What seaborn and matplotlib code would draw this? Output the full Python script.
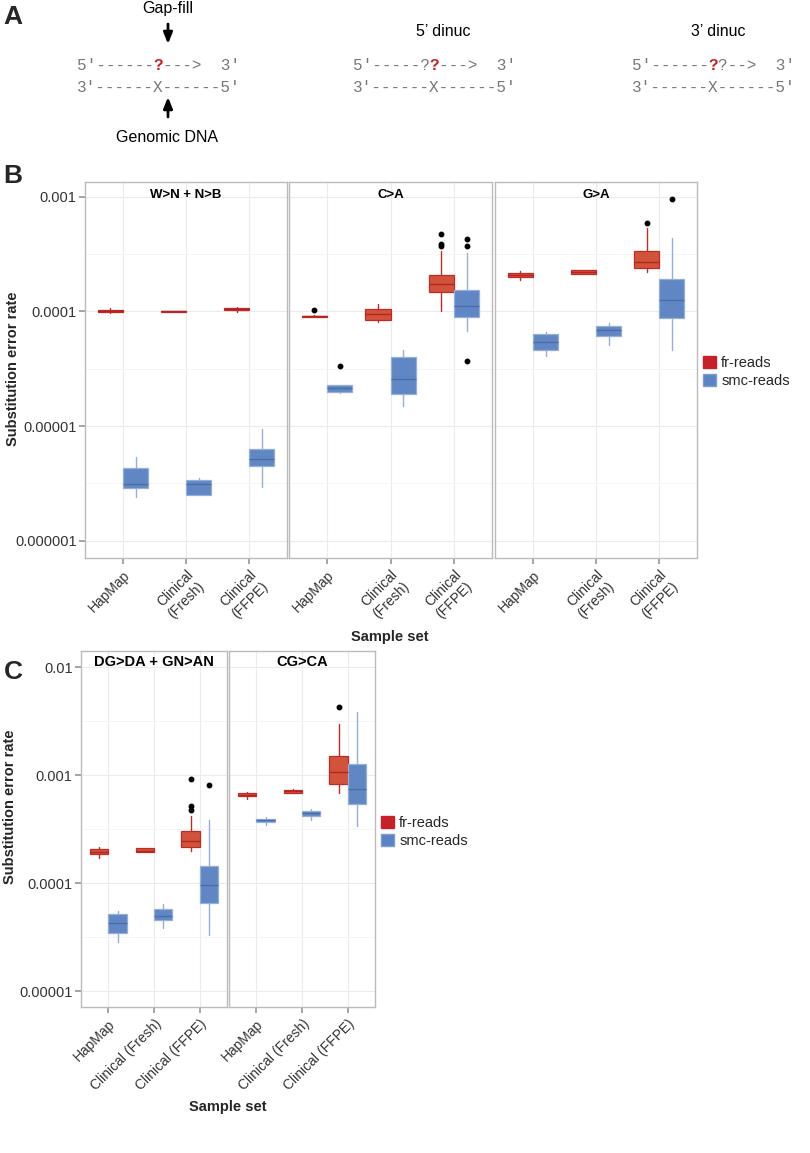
import matplotlib
matplotlib.use("Agg")
import matplotlib.pyplot as plt
from matplotlib.patches import Patch
from matplotlib.ticker import FixedLocator, NullFormatter
import numpy as np
import seaborn as sns

# x categories
groups_b = ["HapMap", "Clinical\n(Fresh)", "Clinical\n(FFPE)"]
groups_c = ["HapMap", "Clinical (Fresh)", "Clinical (FFPE)"]
read_types = ["fr-reads", "smc-reads"]

titles_b = ["W>N + N>B", "C>A", "G>A"]
titles_c = ["DG>DA + GN>AN", "CG>CA"]

yticks_b = [1e-6, 1e-5, 1e-4, 1e-3]
ylabels_b = ["0.000001", "0.00001", "0.0001", "0.001"]
yticks_c = [1e-5, 1e-4, 1e-3, 1e-2]
ylabels_c = ["0.00001", "0.0001", "0.001", "0.01"]

# box summaries, one per sample set:
# (whisker low, q1, median, q3, whisker high, outliers)
wn_fr = [(0.97e-4, 0.99e-4, 1.01e-4, 1.03e-4, 1.06e-4, []),
         (0.99e-4, 0.995e-4, 1.0e-4, 1.005e-4, 1.01e-4, []),
         (0.99e-4, 1.02e-4, 1.04e-4, 1.06e-4, 1.1e-4, [])]
wn_smc = [(2.43e-6, 2.86e-6, 3.15e-6, 4.27e-6, 5.42e-6, []),
          (2.51e-6, 2.51e-6, 3.11e-6, 3.39e-6, 3.56e-6, []),
          (2.95e-6, 4.49e-6, 5.2e-6, 6.27e-6, 9.48e-6, [])]

ca_fr = [(8.85e-5, 8.9e-5, 9.06e-5, 9.2e-5, 9.3e-5, [1.02e-4]),
         (8.1e-5, 8.36e-5, 9.42e-5, 1.05e-4, 1.16e-4, []),
         (1.0e-4, 1.49e-4, 1.74e-4, 2.08e-4, 3.33e-4, [3.72e-4, 3.88e-4, 4.71e-4])]
ca_smc = [(1.96e-5, 2.0e-5, 2.13e-5, 2.26e-5, 2.3e-5, [3.33e-5]),
          (1.49e-5, 1.89e-5, 2.58e-5, 3.98e-5, 4.58e-5, []),
          (6.8e-5, 8.87e-5, 1.12e-4, 1.55e-4, 3.22e-4, [3.72e-5, 3.72e-4, 4.28e-4])]

ga_fr = [(1.86e-4, 1.98e-4, 2.08e-4, 2.18e-4, 2.25e-4, []),
         (2.1e-4, 2.12e-4, 2.2e-4, 2.28e-4, 2.3e-4, []),
         (2.2e-4, 2.41e-4, 2.72e-4, 3.37e-4, 5.31e-4, [5.86e-4])]
ga_smc = [(4.06e-5, 4.61e-5, 5.46e-5, 6.35e-5, 6.65e-5, []),
          (5.06e-5, 6.15e-5, 6.84e-5, 7.52e-5, 8.0e-5, []),
          (4.58e-5, 8.81e-5, 1.26e-4, 1.9e-4, 4.4e-4, [9.49e-4])]

dg_fr = [(1.73e-4, 1.86e-4, 1.96e-4, 2.07e-4, 2.16e-4, []),
         (1.95e-4, 1.95e-4, 2.01e-4, 2.12e-4, 2.14e-4, []),
         (2.0e-4, 2.19e-4, 2.49e-4, 3.02e-4, 4.22e-4, [4.79e-4, 5.25e-4, 9.2e-4])]
dg_smc = [(2.86e-5, 3.46e-5, 4.28e-5, 5.19e-5, 5.5e-5, []),
          (3.85e-5, 4.6e-5, 4.94e-5, 5.77e-5, 6.43e-5, []),
          (3.34e-5, 6.56e-5, 9.55e-5, 1.45e-4, 3.82e-4, [8.22e-4])]

cg_fr = [(6.1e-4, 6.37e-4, 6.64e-4, 6.89e-4, 7.08e-4, []),
         (6.93e-4, 6.93e-4, 7.13e-4, 7.33e-4, 7.55e-4, []),
         (6.93e-4, 8.28e-4, 1.07e-3, 1.52e-3, 2.97e-3, [4.27e-3])]
cg_smc = [(3.45e-4, 3.68e-4, 3.83e-4, 3.98e-4, 4.07e-4, []),
          (3.85e-4, 4.22e-4, 4.45e-4, 4.66e-4, 4.86e-4, []),
          (3.36e-4, 5.41e-4, 7.5e-4, 1.26e-3, 3.89e-3, [])]

FR_FILL, FR_EDGE, FR_MED = "#D2533B", "#C32A26", "#B3261F"
SMC_FILL, SMC_EDGE, SMC_MED = "#6087C3", "#96AFD8", "#4C6EA8"
TXT = "#333333"

sns.set_theme(style="whitegrid")
plt.rcParams["font.family"] = ["Liberation Sans", "DejaVu Sans"]

W, H = 810, 1153
fig = plt.figure(figsize=(W / 100, H / 100), dpi=100)
fig.patch.set_facecolor("white")


def px_axes(x0, x1, y0, y1):
    return fig.add_axes([x0 / W, 1 - y1 / H, (x1 - x0) / W, (y1 - y0) / H])


def draw_boxes(ax, stats, shift, fill, edge, med):
    bstats = [dict(whislo=s[0], q1=s[1], med=s[2], q3=s[3], whishi=s[4], fliers=s[5]) for s in stats]
    ax.bxp(bstats, positions=np.arange(len(stats)) + shift, widths=0.4,
           patch_artist=True, showcaps=False, manage_ticks=False,
           boxprops=dict(facecolor=fill, edgecolor=edge, linewidth=0.9),
           medianprops=dict(color=med, linewidth=1.0),
           whiskerprops=dict(color=edge, linewidth=1.0),
           flierprops=dict(marker="o", markersize=3.2, markerfacecolor="black",
                           markeredgecolor="black", linestyle="none"))


def style_panel(ax, ylim, yticks, ylabels, groups, title, first, title_y, fs_title):
    ax.set_yscale("log")
    ax.set_ylim(*ylim)
    ax.set_xlim(-0.6, 2.6)
    ax.set_yticks(yticks)
    lo, hi = np.log10(yticks[0]), np.log10(yticks[-1])
    ax.yaxis.set_minor_locator(FixedLocator(10 ** np.arange(lo - 0.5, hi + 1, 1.0)))
    ax.yaxis.set_minor_formatter(NullFormatter())
    ax.set_xticks(range(len(groups)))
    ax.set_xticklabels(groups, rotation=45, ha="right", rotation_mode="anchor",
                       fontsize=10, color=TXT)
    if first:
        ax.set_yticklabels(ylabels, fontsize=10.5, color=TXT)
        ax.tick_params(axis="y", which="major", left=True, length=4, color="#999999", pad=2)
    else:
        ax.set_yticklabels([])
        ax.tick_params(axis="y", which="major", left=False, length=0)
    ax.tick_params(axis="y", which="minor", left=False, length=0)
    ax.tick_params(axis="x", bottom=True, length=4, color="#999999", pad=3)
    ax.grid(which="major", color="#EBEBEB", linewidth=0.8)
    ax.grid(which="minor", axis="y", color="#F4F4F4", linewidth=0.6)
    ax.set_axisbelow(True)
    for sp in ax.spines.values():
        sp.set_color("#BBBBBB")
        sp.set_linewidth(1.0)
    ax.set_facecolor("white")
    ax.text(0.5, title_y, title, transform=ax.transAxes, ha="center", va="center",
            fontsize=fs_title, fontweight="bold", color="black")


# ---- panel A: schematic ----
ax0 = fig.add_axes([0, 0, 1, 1])
ax0.set_xlim(0, W)
ax0.set_ylim(H, 0)
ax0.axis("off")

mono = ["Liberation Mono", "DejaVu Sans Mono"]
seq_fs = 11.5
char_w = 0.6 * seq_fs  # monospace advance, in points

# each top strand is split into gray / red / gray pieces, given as (start column, text, red?)
schemes = [
    (77, [(0, "5′------", False), (8, "?", True), (9, "--->  3′", False)]),
    (353, [(0, "5′-----?", False), (8, "?", True), (9, "--->  3′", False)]),
    (632, [(0, "5′------", False), (8, "?", True), (9, "?-->  3′", False)]),
]
for x0, pieces in schemes:
    for col, txt, red in pieces:
        ax0.annotate(txt, xy=(x0, 65), xytext=(col * char_w, 0), textcoords="offset points",
                     family=mono, fontsize=seq_fs, ha="left", va="center",
                     color="#CC1F1F" if red else "#777777",
                     fontweight="bold" if red else "normal")
    ax0.text(x0, 88, "3′------X------5′", family=mono, fontsize=seq_fs, color="#777777",
             ha="left", va="center")

ax0.text(168, 9, "Gap-fill", fontsize=11.5, ha="center", va="center", color="black")
ax0.text(167, 138, "Genomic DNA", fontsize=11.5, ha="center", va="center", color="black")
ax0.text(443, 32, "5’ dinuc", fontsize=11.5, ha="center", va="center", color="black")
ax0.text(718, 32, "3’ dinuc", fontsize=11.5, ha="center", va="center", color="black")
arrow = dict(arrowstyle="-|>,head_width=0.22,head_length=0.55", lw=2.0, color="black",
             shrinkA=0, shrinkB=0)
ax0.annotate("", xy=(168, 44), xytext=(168, 24), arrowprops=arrow)
ax0.annotate("", xy=(168, 97), xytext=(168, 117), arrowprops=arrow)

for letter, y in [("A", 17), ("B", 176), ("C", 672)]:
    ax0.text(13, y, letter, fontsize=19, fontweight="bold", ha="center", va="center")

# ---- panel B ----
ylim_b = (10 ** -6.150, 10 ** -2.872)
b_cols = [(85, 287), (289, 492), (495, 697)]
b_data = [(wn_fr, wn_smc), (ca_fr, ca_smc), (ga_fr, ga_smc)]
for i, ((x0, x1), (fr, smc), title) in enumerate(zip(b_cols, b_data, titles_b)):
    ax = px_axes(x0, x1, 182, 558)
    style_panel(ax, ylim_b, yticks_b, ylabels_b, groups_b, title, i == 0, 0.965, 9.5)
    draw_boxes(ax, fr, -0.2, FR_FILL, FR_EDGE, FR_MED)
    draw_boxes(ax, smc, 0.2, SMC_FILL, SMC_EDGE, SMC_MED)

# ---- panel C ----
ylim_c = (10 ** -5.145, 10 ** -1.849)
c_cols = [(81, 227), (229, 375)]
c_data = [(dg_fr, dg_smc), (cg_fr, cg_smc)]
for i, ((x0, x1), (fr, smc), title) in enumerate(zip(c_cols, c_data, titles_c)):
    ax = px_axes(x0, x1, 651, 1007)
    style_panel(ax, ylim_c, yticks_c, ylabels_c, groups_c, title, i == 0, 0.968, 10.5)
    draw_boxes(ax, fr, -0.2, FR_FILL, FR_EDGE, FR_MED)
    draw_boxes(ax, smc, 0.2, SMC_FILL, SMC_EDGE, SMC_MED)

# axis titles
ax0.text(13, 369, "Substitution error rate", rotation=90, fontsize=10.5, fontweight="bold",
         ha="center", va="center")
ax0.text(10, 807, "Substitution error rate", rotation=90, fontsize=10.5, fontweight="bold",
         ha="center", va="center")
ax0.text(390, 637, "Sample set", fontsize=10.5, fontweight="bold", ha="center", va="center")
ax0.text(228, 1107, "Sample set", fontsize=10.5, fontweight="bold", ha="center", va="center")

# legends
handles = [Patch(facecolor="#C8202A", edgecolor="#C8202A", label=read_types[0]),
           Patch(facecolor="#5B82C4", edgecolor="#7E9DD0", label=read_types[1])]
for lx, ly in [(703, 372), (381, 832)]:
    fig.legend(handles=handles, loc="center left", bbox_to_anchor=(lx / W, 1 - ly / H),
               frameon=False, fontsize=10.5, handlelength=0.9, handleheight=0.9,
               handletextpad=0.35, labelspacing=0.25, borderpad=0, borderaxespad=0)

fig.savefig("out.png", dpi=100)
